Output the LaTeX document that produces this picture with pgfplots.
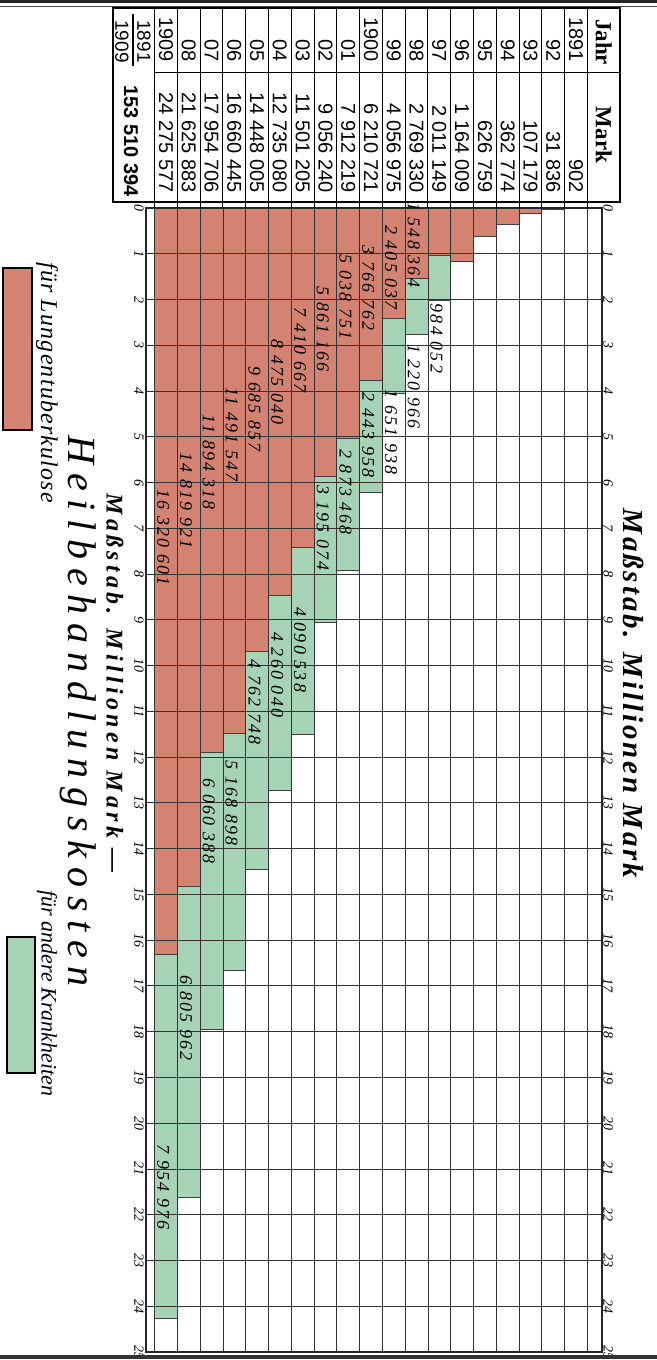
\documentclass[border=0pt]{standalone}
\usepackage{pgfplots}
\pgfplotsset{compat=1.18}
\usepackage{pgfplotstable}
\usepackage{fontspec}
\setmainfont{Liberation Serif}
\newfontfamily\tabfont{Liberation Sans}
\newfontfamily\labfont[LetterSpace=12]{Liberation Serif}
\newfontfamily\ttlfont[LetterSpace=10]{Liberation Serif}
\newfontfamily\ttlfontb[LetterSpace=18]{Liberation Serif}
\newfontfamily\heilfont[LetterSpace=22]{Liberation Serif}
\newfontfamily\lgfont[LetterSpace=5]{Liberation Serif}
\definecolor{tbred}{RGB}{212,130,114}
\definecolor{okgreen}{RGB}{166,211,181}
\tikzset{blab/.style={rotate=-90, inner sep=0pt,
    font=\labfont\itshape\fontsize{9}{9}\selectfont}}
\pgfplotsset{frame/.style={at={(73pt,-676pt)}, anchor=south west,
  scale only axis, width=228pt, height=572pt,
  xmin=1889.86, xmax=1909.88, x dir=reverse,
  ymin=0, ymax=25, y dir=reverse}}

\pgfplotstableread{
year red green
1891 0.000902 0
1892 0.031836 0
1893 0.107179 0
1894 0.362774 0
1895 0.626759 0
1896 1.164009 0
1897 1.027097 0.984052
1898 1.548364 1.220966
1899 2.405037 1.651938
1900 3.766763 2.443958
1901 5.038751 2.873468
1902 5.861166 3.195074
1903 7.410667 4.090538
1904 8.475040 4.260040
1905 9.685257 4.762748
1906 11.491547 5.168898
1907 11.894318 6.060388
1908 14.819921 6.805962
1909 16.320601 7.954976
}\heildata

\begin{document}
\begin{tikzpicture}
\useasboundingbox (0,0) rectangle (328.5pt,-680pt);
\begin{axis}[
  frame,
  ybar stacked, bar width=1,
  axis on top, clip=false,
  xtick={1890.5,1891.5,...,1909.5}, xticklabels={},
  ytick={0,1,...,25},
  xmajorgrids, ymajorgrids,
  major tick length=0,
  grid style={black!80, line width=0.45pt},
  axis line style={black!85, line width=0.55pt},
  /pgf/number format/assume math mode=true,
  yticklabel style={rotate=-90, anchor=north, inner sep=1pt,
    font=\fontsize{7}{7}\selectfont\itshape},
]
\addplot[fill=tbred, draw=black!75, line width=0.4pt] table[x=year, y=red] {\heildata};
\addplot[fill=okgreen, draw=black!75, line width=0.4pt] table[x=year, y=green] {\heildata};
\end{axis}
% value labels, on top of the bars
\begin{axis}[frame, hide axis, clip=false]
\addplot[draw=none] coordinates {(1895,0)};
\node[blab] at (axis cs:1898.12,0.8) {1 548 364};
\node[blab] at (axis cs:1899.12,1.3) {2 405 037};
\node[blab] at (axis cs:1900.12,1.75) {3 766 762};
\node[blab] at (axis cs:1901.12,1.95) {5 038 751};
\node[blab] at (axis cs:1902.12,2.65) {5 861 166};
\node[blab] at (axis cs:1903.12,3.1) {7 410 667};
\node[blab] at (axis cs:1904.12,3.8) {8 475 040};
\node[blab] at (axis cs:1905.12,4.4) {9 685 857};
\node[blab] at (axis cs:1906.12,4.95) {11 491 547};
\node[blab] at (axis cs:1907.12,5.55) {11 894 318};
\node[blab] at (axis cs:1908.12,6.4) {14 819 921};
\node[blab] at (axis cs:1909.12,7.2) {16 320 601};
\node[blab] at (axis cs:1897.12,2.85) {984 052};
\node[blab] at (axis cs:1898.12,3.9) {1 220 966};
\node[blab] at (axis cs:1899.12,4.9) {1 651 938};
\node[blab] at (axis cs:1900.12,4.97) {2 443 958};
\node[blab] at (axis cs:1901.12,6.2) {2 873 468};
\node[blab] at (axis cs:1902.12,7.0) {3 195 074};
\node[blab] at (axis cs:1903.12,9.65) {4 090 538};
\node[blab] at (axis cs:1904.12,10.2) {4 260 040};
\node[blab] at (axis cs:1905.12,10.8) {4 762 748};
\node[blab] at (axis cs:1906.12,13.0) {5 168 898};
\node[blab] at (axis cs:1907.12,13.4) {6 060 388};
\node[blab] at (axis cs:1908.12,17.7) {6 805 962};
\node[blab] at (axis cs:1909.12,21.4) {7 954 976};
\end{axis}
\begin{axis}[
  frame,
  hide x axis, axis y line*=right, y axis line style={draw=none},
  ytick={0,1,...,25}, major tick length=0,
  /pgf/number format/assume math mode=true,
  yticklabel style={rotate=-90, anchor=south, inner sep=0.5pt,
    font=\fontsize{7}{7}\selectfont\itshape},
]
\addplot[draw=none] coordinates {(1895,0)};
\end{axis}
\begin{scope}[x=0.5pt, y=-0.5pt]
% page borders
\draw[line width=1.6pt, black!85] (0,1.5) -- (657,1.5);
\draw[line width=0.4pt, black!70] (0,6) -- (657,6);
\draw[line width=2.2pt, black!80] (0,1357) -- (657,1357);
% table
\draw[line width=0.6pt] (113,8) rectangle (620,202);
\draw[line width=0.5pt] (154.58,72) -- (620,72);
\foreach \k in {0,...,19} \draw[line width=0.45pt] ({587.4-22.78*\k},8) -- ({587.4-22.78*\k},208);
\foreach \yr/\lab in {1891/1891,1892/92,1893/93,1894/94,1895/95,1896/96,1897/97,1898/98,1899/99,1900/1900,1901/01,1902/02,1903/03,1904/04,1905/05,1906/06,1907/07,1908/08,1909/1909}
  \node[rotate=-90, anchor=east, inner sep=0pt, font=\tabfont\fontsize{10}{10}\selectfont] at ({576-22.78*(\yr-1891)},62) {\lab};
\foreach \yr/\m in {1891/902,1892/31 836,1893/107 179,1894/362 774,1895/626 759,1896/1 164 009,1897/2 011 149,1898/2 769 330,1899/4 056 975,1900/6 210 721,1901/7 912 219,1902/9 056 240,1903/11 501 205,1904/12 735 080,1905/14 448 005,1906/16 660 445,1907/17 954 706,1908/21 625 883,1909/24 275 577}
  \node[rotate=-90, anchor=east, inner sep=0pt, font=\tabfont\fontsize{10}{10}\selectfont] at ({576-22.78*(\yr-1891)},193) {\m};
\node[rotate=-90, anchor=east, inner sep=0pt, font=\tabfont\fontsize{9.5}{9.5}\selectfont] at (144,63) {1891};
\node[rotate=-90, anchor=east, inner sep=0pt, font=\tabfont\fontsize{9.5}{9.5}\selectfont] at (122,63) {1909};
\draw[line width=0.6pt] (133,14) -- (133,66);
\node[rotate=-90, anchor=east, inner sep=0pt, font=\tabfont\bfseries\fontsize{10}{10}\selectfont] at (131,197) {153 510 394};
\node[rotate=-90, inner sep=0pt, font=\bfseries\fontsize{11.5}{11.5}\selectfont] at (603.7,42) {Jahr};
\node[rotate=-90, inner sep=0pt, font=\bfseries\fontsize{11.5}{11.5}\selectfont] at (603.7,135) {Mark};
% titles
\node[rotate=-90, anchor=west, inner sep=0pt, font=\ttlfont\bfseries\itshape\fontsize{14.5}{14.5}\selectfont] at (633,508) {Maßstab. Millionen Mark};
\node[rotate=-90, anchor=west, inner sep=0pt, font=\ttlfontb\bfseries\itshape\fontsize{12}{12}\selectfont] at (115,493) {Maßstab. Millionen Mark —};
\node[rotate=-90, anchor=west, inner sep=0pt, font=\heilfont\itshape\fontsize{20}{20}\selectfont] at (78,435) {Heilbehandlungskosten};
% legend
\draw[line width=0.6pt, fill=tbred] (3,268) rectangle (32,430);
\node[rotate=-90, anchor=west, inner sep=0pt, font=\lgfont\itshape\fontsize{12}{12}\selectfont] at (47,262) {für Lungentuberkulose};
\draw[line width=0.6pt, fill=okgreen] (7,937) rectangle (35,1073);
\node[rotate=-90, anchor=west, inner sep=0pt, font=\itshape\fontsize{11}{11}\selectfont] at (47,890) {für andere Krankheiten};
\end{scope}
\end{tikzpicture}
\end{document}
